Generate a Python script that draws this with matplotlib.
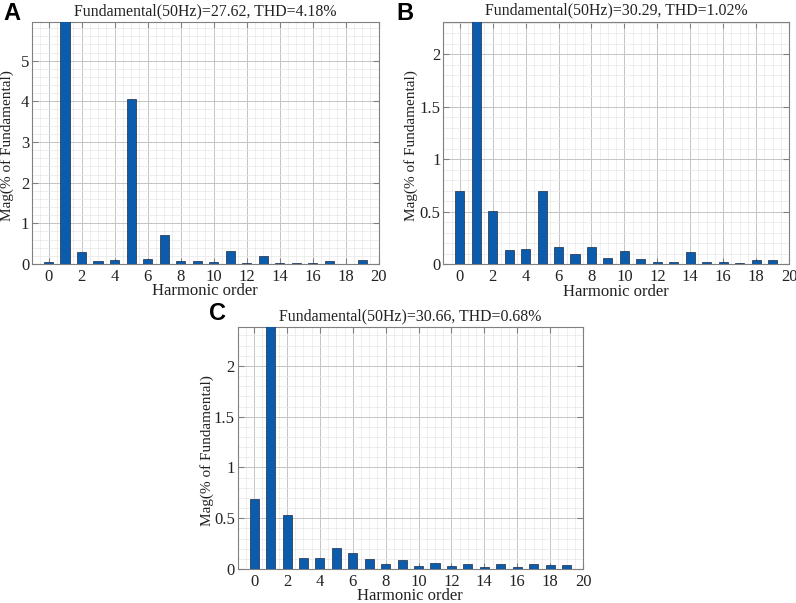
import matplotlib
matplotlib.use('Agg')
import matplotlib.pyplot as plt
from matplotlib.ticker import MultipleLocator, FormatStrFormatter

plt.rcParams['font.family'] = ['Liberation Serif', 'DejaVu Serif']

# harmonic orders and magnitudes (% of fundamental)
orders = list(range(20))
mag_a = [0.06, 100, 0.285, 0.08, 0.11, 4.05, 0.12, 0.71, 0.08, 0.065,
         0.05, 0.33, 0.03, 0.20, 0.015, 0.015, 0.015, 0.065, 0.01, 0.09]
mag_b = [0.70, 100, 0.51, 0.137, 0.15, 0.70, 0.16, 0.10, 0.165, 0.057,
         0.13, 0.05, 0.02, 0.02, 0.12, 0.02, 0.02, 0.015, 0.04, 0.04]
mag_c = [0.69, 100, 0.53, 0.105, 0.11, 0.21, 0.16, 0.095, 0.052, 0.089,
         0.026, 0.056, 0.026, 0.046, 0.016, 0.05, 0.02, 0.046, 0.04, 0.04]
titles = ['Fundamental(50Hz)=27.62, THD=4.18%',
          'Fundamental(50Hz)=30.29, THD=1.02%',
          'Fundamental(50Hz)=30.66, THD=0.68%']
letters = ['A', 'B', 'C']

fig = plt.figure(figsize=(7.96, 6.03), dpi=100)

W, H = 796, 603
boxes = [(32, 378.7, 22, 264), (443.3, 789, 21.7, 264.3), (237.7, 583, 327.3, 569)]
ylims = [5.95, 2.31, 2.38]
ymajor = [1, 0.5, 0.5]
yminor = [0.2, 0.1, 0.1]
letter_pos = [(12, 14), (405, 14), (217, 314)]
ylabel_x = [14, 418, 214]  # right edge of rotated y label, px


def draw_panel(i, mags):
    x0, x1, y0, y1 = boxes[i]
    ax = fig.add_axes([x0 / W, 1 - y1 / H, (x1 - x0) / W, (y1 - y0) / H])
    ax.bar(orders, mags, width=0.55, color='#0b5cad', edgecolor='#1c2a44',
           linewidth=0.5, zorder=3)
    ax.set_xlim(-1, 20)
    ax.set_ylim(0, ylims[i])
    ax.xaxis.set_major_locator(MultipleLocator(2))
    ax.xaxis.set_minor_locator(MultipleLocator(0.5))
    ax.yaxis.set_major_locator(MultipleLocator(ymajor[i]))
    ax.yaxis.set_minor_locator(MultipleLocator(yminor[i]))
    ax.yaxis.set_major_formatter(FormatStrFormatter('%g'))
    ax.grid(which='major', color='#c4c4c4', linewidth=0.7, zorder=0)
    ax.grid(which='minor', color='#e8e8e8', linewidth=0.5, zorder=0)
    ax.set_axisbelow(True)
    ax.tick_params(which='both', direction='in', top=True, right=True,
                   colors='#808080', labelcolor='#222222', labelsize=12)
    ax.tick_params(axis='y', pad=2)
    ax.tick_params(which='major', length=4)
    ax.tick_params(which='minor', length=0)
    for s in ax.spines.values():
        s.set_color('#808080')
        s.set_linewidth(0.8)
    ax.set_title(titles[i], fontsize=11.4, pad=5, color='#222222')
    ax.set_xlabel('Harmonic order', fontsize=12, labelpad=-1, color='#222222')
    ax.set_ylabel('Mag(% of Fundamental)', fontsize=11, color='#222222')
    ax.yaxis.set_label_coords((ylabel_x[i] - x0) / (x1 - x0), 0.49)
    lx, ly = letter_pos[i]
    fig.text(lx / W, 1 - ly / H, letters[i], fontsize=17, fontweight='bold',
             family='Liberation Sans', ha='center', va='center')
    return ax


draw_panel(0, mag_a)
draw_panel(1, mag_b)
draw_panel(2, mag_c)

fig.savefig('out.png', dpi=100)
